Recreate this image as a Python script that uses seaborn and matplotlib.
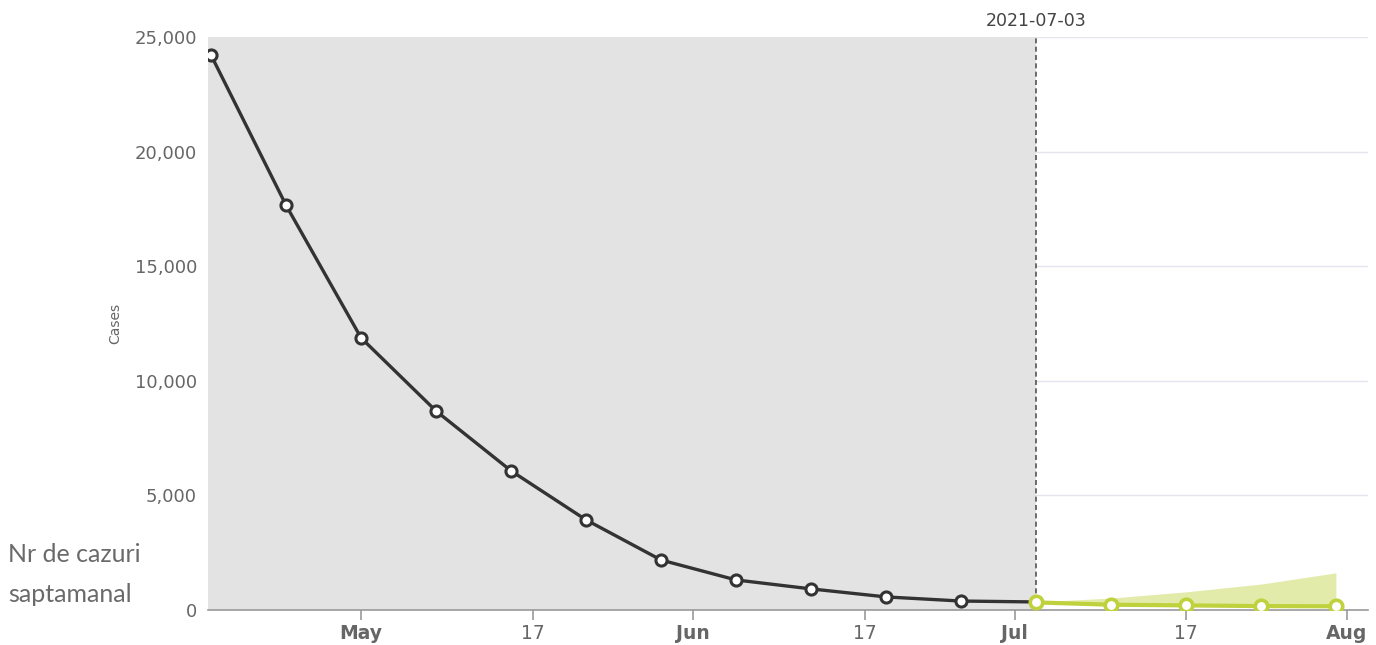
import pandas as pd
import numpy as np
import matplotlib
matplotlib.use('Agg')
import matplotlib.pyplot as plt
import seaborn as sns

# date saptamanale (istoric + prognoza)
hist_dates = pd.date_range('2021-04-17', '2021-07-03', freq='7D')
hist_cases = [24200, 17650, 11870, 8680, 6070, 3930, 2180, 1310, 920, 570, 390, 350]

fc_dates = pd.date_range('2021-07-03', '2021-07-31', freq='7D')
fc_cases = [330, 230, 200, 170, 160]
fc_upper = [350, 520, 790, 1130, 1620]
fc_lower = [320, 200, 170, 140, 120]

cutoff = '2021-07-03'
tick_dates = ['2021-05-01', '2021-05-17', '2021-06-01', '2021-06-17',
              '2021-07-01', '2021-07-17', '2021-08-01']
tick_labels = ['May', '17', 'Jun', '17', 'Jul', '17', 'Aug']
y_ticks = [0, 5000, 10000, 15000, 20000, 25000]

sns.set_theme(style='white')
plt.rcParams['font.family'] = ['DejaVu Sans']

hist = pd.DataFrame({'date': hist_dates, 'cases': hist_cases})
fc = pd.DataFrame({'date': fc_dates, 'cases': fc_cases,
                   'upper': fc_upper, 'lower': fc_lower})

fig = plt.figure(figsize=(13.76, 6.45), dpi=100)
ax = fig.add_axes([0.1512, 0.0543, 0.8430, 0.8883])

x0 = pd.Timestamp('2021-04-16 17:00')
x1 = pd.Timestamp('2021-08-03 00:00')
ax.set_xlim(x0, x1)
ax.set_ylim(0, 25000)

# grid
for yv in y_ticks[1:]:
    ax.axhline(yv, color='#e4e4ee', lw=1, zorder=0)

# zona istorica gri
ax.axvspan(x0, pd.Timestamp(cutoff), color='#e3e3e3', zorder=1, lw=0)
ax.axvline(pd.Timestamp(cutoff), color='#555555', lw=1.2, ls=(0, (3, 2)), zorder=2)

# banda de incertitudine
ax.fill_between(fc['date'], fc['lower'], fc['upper'], color='#e3ebaa', lw=0, zorder=2)

sns.lineplot(data=hist, x='date', y='cases', ax=ax, color='#333333', lw=2.4,
             marker='o', markersize=8, markerfacecolor='white',
             markeredgecolor='#333333', markeredgewidth=2.2, zorder=4)
sns.lineplot(data=fc, x='date', y='cases', ax=ax, color='#bfd13c', lw=3,
             marker='o', markersize=9, markerfacecolor='white',
             markeredgecolor='#bfd13c', markeredgewidth=2.6, zorder=5)

for s in ['top', 'right', 'left']:
    ax.spines[s].set_visible(False)
ax.spines['bottom'].set_color('#999999')
ax.spines['bottom'].set_linewidth(1.2)

ax.set_xticks([pd.Timestamp(d) for d in tick_dates])
ax.set_xticklabels(tick_labels)
for lbl in ax.get_xticklabels():
    lbl.set_fontweight('bold' if lbl.get_text() != '17' else 'normal')
    lbl.set_color('#666666')
    lbl.set_fontsize(13.5)
ax.tick_params(axis='x', length=7, width=1.2, color='#999999', direction='out',
               bottom=True, pad=3)

ax.set_yticks(y_ticks)
ax.set_yticklabels([f'{v:,}' for v in y_ticks])
ax.tick_params(axis='y', length=0, labelsize=13, labelcolor='#666666', pad=8)

ax.set_xlabel('')
ax.set_ylabel('Cases', fontsize=10, color='#666666', labelpad=9)

ax.text(pd.Timestamp(cutoff), 1.012, cutoff, transform=ax.get_xaxis_transform(),
        ha='center', va='bottom', fontsize=12.5, color='#444444')

fig.text(8 / 1376, 1 - 555 / 645, 'Nr de cazuri', fontsize=18, color='#6a6a6a',
         family=['Lato', 'DejaVu Sans'], va='center', ha='left')
fig.text(8 / 1376, 1 - 595 / 645, 'saptamanal', fontsize=18, color='#6a6a6a',
         family=['Lato', 'DejaVu Sans'], va='center', ha='left')

fig.savefig('out.png', dpi=100)
